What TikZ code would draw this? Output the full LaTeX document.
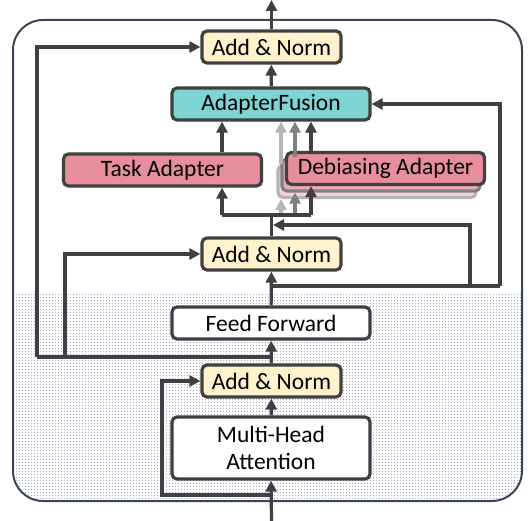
\documentclass[tikz,border=0pt]{standalone}
\usepackage{fontspec}
\setmainfont{Carlito}
\usetikzlibrary{arrows.meta,patterns.meta}
\definecolor{lc}{HTML}{404040}
\definecolor{normc}{HTML}{FFF2CC}
\definecolor{fusc}{HTML}{7ED3D3}
\definecolor{adc}{HTML}{E68E9C}
\definecolor{adc2}{HTML}{EDA9B4}
\definecolor{adc3}{HTML}{F7D4DA}
\definecolor{gr1}{HTML}{808080}
\definecolor{gr2}{HTML}{B5B5B5}
\definecolor{outc}{HTML}{3A4656}
\definecolor{dotc}{HTML}{A3AEC6}
\tikzdeclarepattern{
  name=densedots,
  type=uncolored,
  bottom left={(-.1pt,-.1pt)},
  top right={(3.1pt,3.1pt)},
  tile size={(3pt,3pt)},
  code={\pgfpathcircle{\pgfqpoint{1.5pt}{1.5pt}}{0.6pt}\pgfusepath{fill}}
}
\tikzset{
  box/.style={draw=lc, line width=3.2pt, rounded corners=5pt, minimum height=32pt, inner sep=0pt, align=center, text=black, font=\fontsize{23.5}{27}\selectfont},
  normbox/.style={box, fill=normc, minimum width=139pt},
  widebox/.style={box, minimum width=198pt},
  arr/.style={draw=lc, line width=3.2pt, -{Triangle[length=11pt,width=11pt]}},
  ln/.style={draw=lc, line width=3.2pt},
  outer/.style={draw=outc, line width=2pt, rounded corners=30pt}
}
\begin{document}
\begin{tikzpicture}[x=1pt,y=-1pt]
\useasboundingbox (0,0) rectangle (530,521);
% background
\begin{scope}
\clip[rounded corners=30pt] (13,20) rectangle (522,501);
\fill[white] (13,20) rectangle (522,501);
\fill[pattern=densedots, pattern color=dotc] (13,293) rectangle (522,501);
\end{scope}
\draw[outer] (13,20) rectangle (522,501);

% nodes
\node[normbox] (an3) at (271.5,47) {Add \& Norm};
\node[widebox, fill=fusc] (fus) at (271,104) {AdapterFusion};
\node[widebox, fill=adc] (task) at (162.5,170) {Task Adapter};
\node[widebox, fill=adc3, draw=gr2] (deb3) at (377,181.5) {\phantom{Debiasing Adapter}};
\node[widebox, fill=adc2, draw=gr1] (deb2) at (381,175) {\phantom{Debiasing Adapter}};
\node[widebox, fill=adc] (deb) at (385.5,168.5) {Debiasing Adapter};
\node[normbox] (an2) at (271.5,254) {Add \& Norm};
\node[widebox, fill=white] (ff) at (271,323) {Feed Forward};
\node[normbox] (an1) at (271.5,381) {Add \& Norm};
\node[widebox, fill=white, minimum height=62pt] (mha) at (271,448) {Multi-Head\\Attention};

% coordinates
\coordinate (in) at (271.5,521);
\coordinate (out) at (271.5,0);
\coordinate (b1) at (271.5,495);
\coordinate (r1) at (162,495);
\coordinate (b2) at (271.5,357);
\coordinate (r2) at (65,357);
\coordinate (r3) at (37,357);
\coordinate (b3) at (271.5,286);
\coordinate (r4) at (470,286);
\coordinate (r5) at (500,286);
\coordinate (j1) at (273,225);
\coordinate (j2) at (271.5,215);
\coordinate (s1) at (222,215);
\coordinate (s2) at (281,215);
\coordinate (s3) at (295,215);
\coordinate (s4) at (311,215);

% connectors
\draw[arr] (in) -- (mha.south);
\draw[arr] (b1) -- (r1) |- (an1.west);
\draw[arr] (mha) -- (an1);
\draw[arr] (an1) -- (ff);
\draw[arr] (b2) -- (r2) |- (an2.west);
\draw[ln] (r2) -- (r3);
\draw[arr] (r3) |- (an3.west);
\draw[arr] (ff) -- (an2);
\draw[arr] (b3) -- (r4) |- (j1);
\draw[ln] (r4) -- (r5);
\draw[arr] (r5) |- (fus.east);
\draw[ln] (an2.north) -- (j2);
% gray adapter arrows
\draw[arr, draw=gr2, fill=gr2] (s2) -- (s2 |- deb3.south);
\draw[arr, draw=gr1, fill=gr1] (s3) -- (s3 |- deb2.south);
\draw[ln, line cap=butt] (s1) -- (s4);
\draw[arr] (s1) -- (s1 |- task.south);
\draw[arr] (s4) -- (s4 |- deb.south);
\draw[arr] (task.north -| s1) -- (s1 |- fus.south);
\draw[arr] (deb.north -| s4) -- (s4 |- fus.south);
\draw[arr, draw=gr2] (s2 |- deb3.north) -- (s2 |- fus.south);
\draw[arr, draw=gr1] (s3 |- deb2.north) -- (s3 |- fus.south);
\draw[arr] (fus) -- (an3);
\draw[arr] (an3) -- (out);
\end{tikzpicture}
\end{document}
